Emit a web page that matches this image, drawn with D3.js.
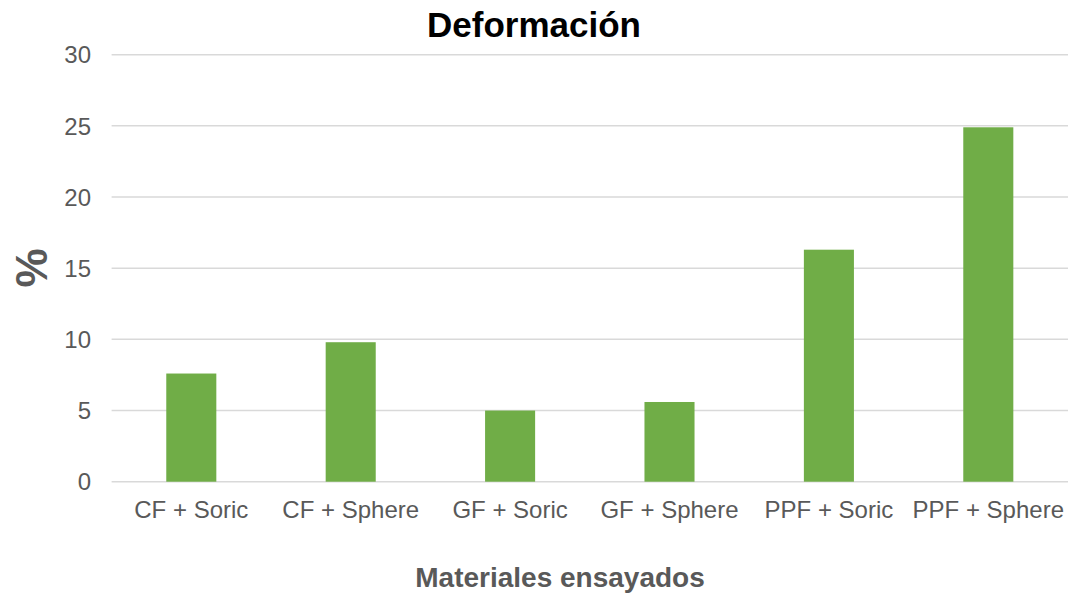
<!DOCTYPE html>
<html>
<head>
<meta charset="utf-8">
<script src="https://cdn.jsdelivr.net/npm/d3@7"></script>
<style>
  html, body { margin: 0; padding: 0; background: #fff; }
  svg { display: block; font-family: "Liberation Sans", Arial, sans-serif; }
</style>
</head>
<body>
<svg id="chart" width="1069" height="594"></svg>
<script>
// Deformation (%) per tested material combination
const categories = ["CF + Soric", "CF + Sphere", "GF + Soric", "GF + Sphere", "PPF + Soric", "PPF + Sphere"];
const values = [7.6, 9.8, 5.0, 5.6, 16.3, 24.9];
const yTicks = [0, 5, 10, 15, 20, 25, 30];

const svg = d3.select("#chart");
const plot = { left: 111.6, right: 1068, top: 54.7, bottom: 481.7 };

const x = d3.scaleBand()
  .domain(categories)
  .range([plot.left, plot.right])
  .paddingInner(0.686)
  .paddingOuter(0.343);

const y = d3.scaleLinear()
  .domain([0, 30])
  .range([plot.bottom, plot.top]);

// horizontal gridlines
svg.append("g")
  .selectAll("line")
  .data(yTicks)
  .join("line")
  .attr("x1", plot.left)
  .attr("x2", plot.right)
  .attr("y1", d => y(d))
  .attr("y2", d => y(d))
  .attr("stroke", "#d9d9d9")
  .attr("stroke-width", 1.5);

// bars
svg.append("g")
  .selectAll("rect")
  .data(values)
  .join("rect")
  .attr("x", (d, i) => x(categories[i]))
  .attr("width", x.bandwidth())
  .attr("y", d => y(d))
  .attr("height", d => y(0) - y(d))
  .attr("fill", "#70ad47");

// y tick labels
svg.append("g")
  .selectAll("text")
  .data(yTicks)
  .join("text")
  .attr("x", 91)
  .attr("y", d => y(d))
  .attr("dy", "0.36em")
  .attr("text-anchor", "end")
  .attr("font-size", 24)
  .attr("fill", "#595959")
  .text(d => d);

// x tick labels
svg.append("g")
  .selectAll("text")
  .data(categories)
  .join("text")
  .attr("x", d => x(d) + x.bandwidth() / 2)
  .attr("y", 518)
  .attr("text-anchor", "middle")
  .attr("font-size", 24)
  .attr("fill", "#595959")
  .text(d => d);

// chart title
svg.append("text")
  .attr("x", 534)
  .attr("y", 37.3)
  .attr("text-anchor", "middle")
  .attr("font-size", 35)
  .attr("font-weight", "bold")
  .attr("fill", "#000")
  .text("Deformación");

// x axis title
svg.append("text")
  .attr("x", 560)
  .attr("y", 587)
  .attr("text-anchor", "middle")
  .attr("font-size", 28)
  .attr("font-weight", "bold")
  .attr("fill", "#595959")
  .text("Materiales ensayados");

// y axis title
svg.append("text")
  .attr("transform", "translate(47,268) rotate(-90)")
  .attr("text-anchor", "middle")
  .attr("font-size", 44)
  .attr("font-weight", "bold")
  .attr("fill", "#595959")
  .text("%");
</script>
</body>
</html>
